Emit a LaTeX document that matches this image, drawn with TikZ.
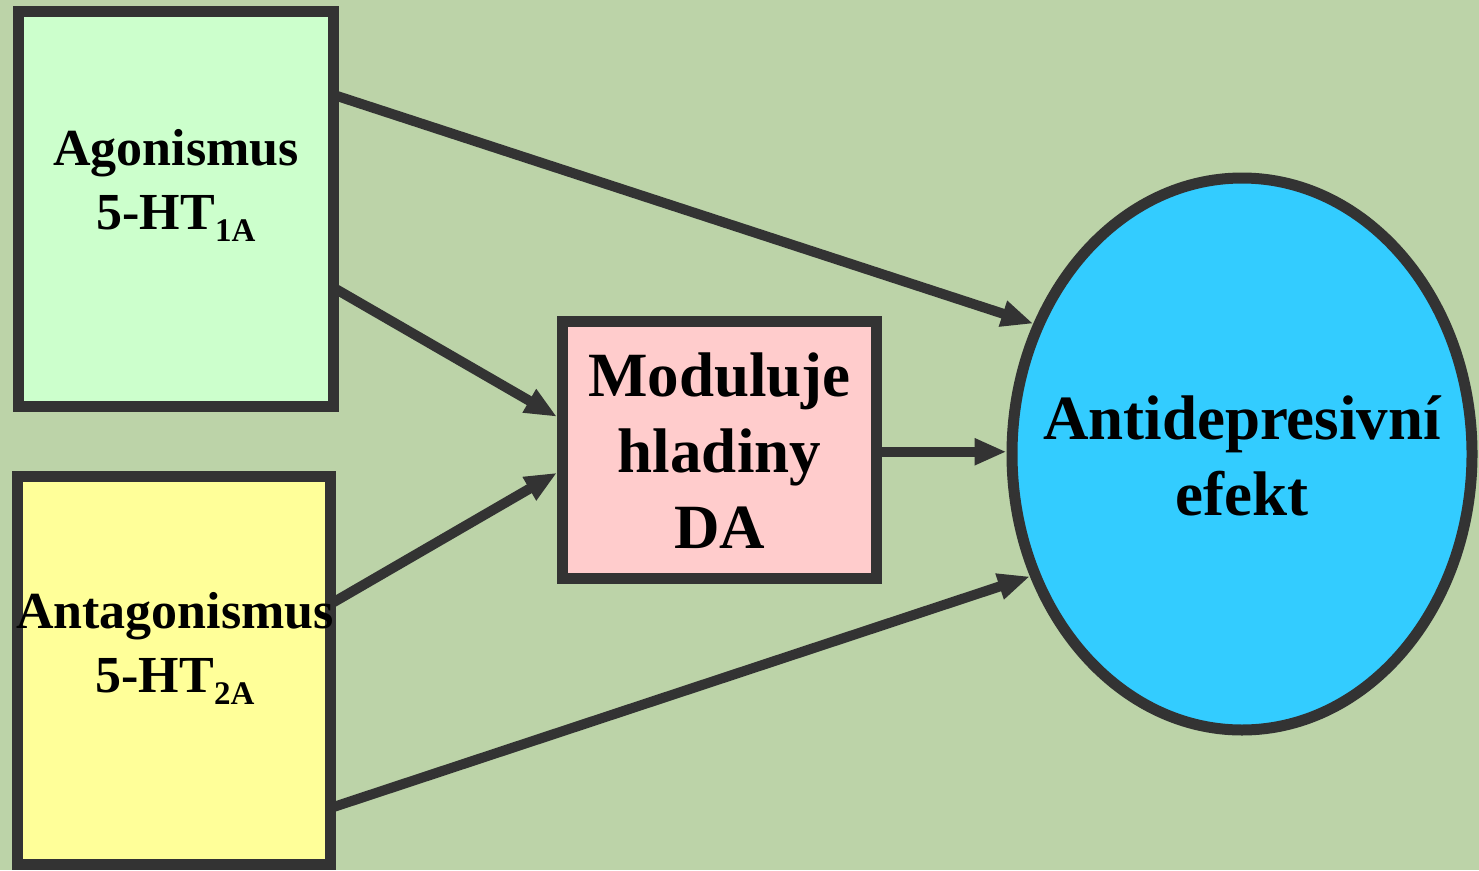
\documentclass[tikz,border=0pt]{standalone}
\usepackage{fontspec}
\setmainfont{Liberation Serif}
\usetikzlibrary{arrows.meta,shapes.geometric,calc}
\definecolor{bgcol}{RGB}{188,211,168}
\definecolor{edgecol}{RGB}{51,51,51}
\definecolor{greenbox}{RGB}{204,255,204}
\definecolor{yellowbox}{RGB}{255,255,153}
\definecolor{pinkbox}{RGB}{255,204,204}
\definecolor{bluebox}{RGB}{51,204,255}
\tikzset{
  boxshape/.style={draw=edgecol, line width=11pt, inner sep=0pt},
  smalltext/.style={font=\bfseries\fontsize{52}{64}\selectfont, align=center, inner sep=0pt},
  bigtext/.style={font=\bfseries\fontsize{63}{76}\selectfont, align=center, inner sep=0pt},
  arr/.style={draw=edgecol, line width=10pt, -{Triangle[length=32pt,width=25pt]}}
}
\newcommand{\subsc}[1]{\raisebox{-12pt}{\fontsize{33}{33}\selectfont #1}}
\begin{document}
\begin{tikzpicture}[x=1pt,y=-1pt]
\fill[bgcol] (0,0) rectangle (1479,870);
\useasboundingbox (0,0) rectangle (1479,870);

\node[boxshape, fill=greenbox, minimum width=315.5pt, minimum height=395pt] (b1) at (175.75,209) {};
\node[boxshape, fill=yellowbox, minimum width=312.5pt, minimum height=388pt] (b2) at (173.75,670) {};
\node[boxshape, fill=pinkbox, minimum width=314pt, minimum height=256.5pt] (b3) at (719.5,449.75) {};
\node[boxshape, fill=bluebox, ellipse, minimum width=460pt, minimum height=552pt] (ell) at (1242,454) {};

\node[smalltext] (t1) at (176,185) {Agonismus\\5-HT\subsc{1A}};
\node[smalltext] (t2) at (175,648) {Antagonismus\\5-HT\subsc{2A}};
\node[bigtext] (t3) at (719.5,451) {Moduluje\\hladiny\\DA};
\node[bigtext] (t4) at (1242,456) {Antidepresivní\\efekt};

\coordinate (s1) at ($(b1.east)+(-5,-114)$);
\coordinate (s2) at ($(b1.east)+(-5,79)$);
\coordinate (e2) at ($(b3.west)+(0,-33)$);
\coordinate (s3) at ($(b2.east)+(-5,-66)$);
\coordinate (e3) at ($(b3.west)+(0,23)$);
\coordinate (s4) at ($(b2.east)+(-5,138)$);
\coordinate (s5) at ($(b3.east)+(-5,2)$);
\draw[arr] (s1) -- (ell.148);
\draw[arr] (s2) -- (e2);
\draw[arr] (s3) -- (e3);
\draw[arr] (s4) -- (ell.210);
\draw[arr] (s5) -- (s5 -| ell.west);
\end{tikzpicture}
\end{document}
